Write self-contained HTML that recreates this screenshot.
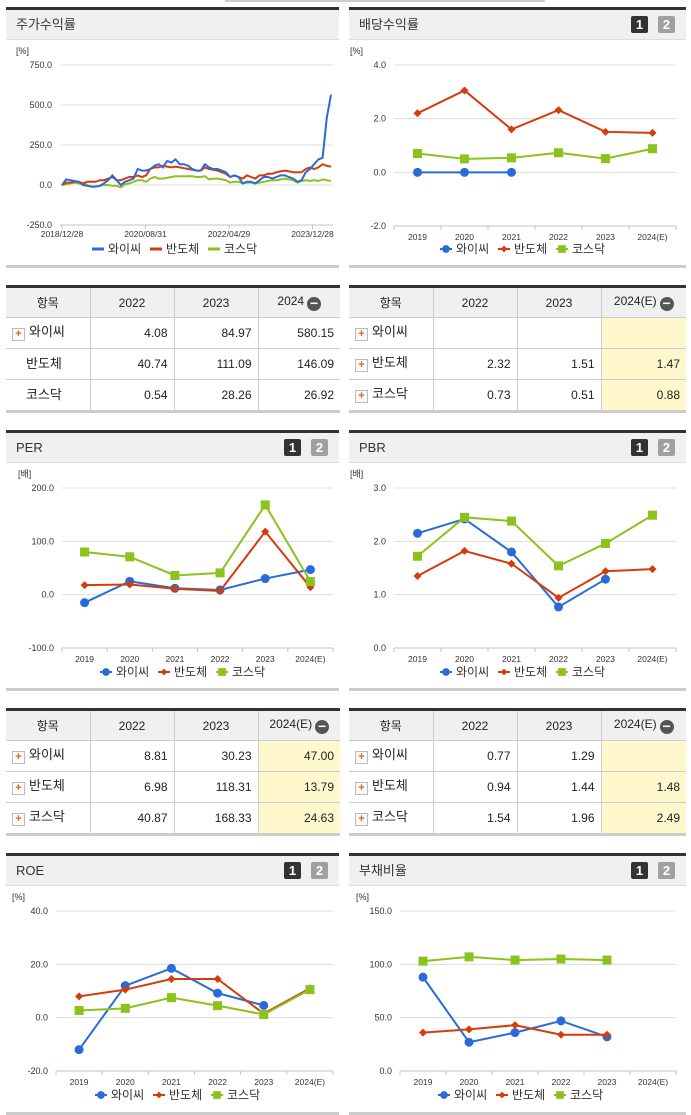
<!DOCTYPE html>
<html><head><meta charset="utf-8">
<style>
body{margin:0;width:691px;height:1115px;background:#fff;position:relative;overflow:hidden;font-family:"Liberation Sans","Noto Sans CJK KR",sans-serif;}
.panel{position:absolute;border-top:3px solid #333;border-bottom:3px solid #ccc;box-sizing:border-box;}
.hdr{height:29px;background:#f0f0f0;border-bottom:1px solid #ddd;font-size:13px;color:#333;line-height:29px;padding-left:10px;position:relative;}
.b1,.b2{position:absolute;top:6px;width:17px;height:17px;border-radius:2px;color:#fff;font-size:13px;font-weight:bold;line-height:17px;text-align:center;}
.b1{background:#333;right:38px}.b2{background:#a0a0a0;right:11px}
table{position:absolute;border-collapse:collapse;font-size:12px;color:#222;border-top:3px solid #333;border-bottom:3px solid #ccc;table-layout:fixed;}
th{background:#f0f0f0;font-weight:normal;height:29px;padding:0;border:1px solid #ccc;border-top:none;font-size:12px;line-height:14px;}
td{height:30px;padding:0 6px 0 0;line-height:14px;border:1px solid #ccc;text-align:right;}
th:first-child,td:first-child{border-left:none}th:last-child,td:last-child{border-right:none}
td.n{text-align:left;padding-left:6px;font-size:13px}
td.hl{background:#fff8cc}
.pl{display:inline-block;width:11px;height:11px;border:1px solid #bbb;background:#fafafa;color:#f06010;font-size:11px;line-height:10px;text-align:center;font-weight:bold;vertical-align:-1px;margin-right:4px}
.mi{display:inline-block;width:14px;height:14px;border-radius:7px;background:#555;color:#fff;line-height:13px;font-size:14px;font-weight:bold;vertical-align:-3px;margin-left:3px}
svg text{font-family:"Liberation Sans","Noto Sans CJK KR",sans-serif;}
</style></head><body>
<div style="position:absolute;left:225px;top:0;width:320px;height:2px;background:#ccc"></div>

<div class="panel" style="left:6px;top:7px;width:333px;height:261px"><div class="hdr">주가수익률</div></div>
<div class="panel" style="left:349px;top:7px;width:337px;height:261px"><div class="hdr">배당수익률<span class="b1">1</span><span class="b2">2</span></div></div>
<div class="panel" style="left:6px;top:430px;width:333px;height:261px"><div class="hdr">PER<span class="b1">1</span><span class="b2">2</span></div></div>
<div class="panel" style="left:349px;top:430px;width:337px;height:261px"><div class="hdr">PBR<span class="b1">1</span><span class="b2">2</span></div></div>
<div class="panel" style="left:6px;top:853px;width:333px;height:262px"><div class="hdr">ROE<span class="b1">1</span><span class="b2">2</span></div></div>
<div class="panel" style="left:349px;top:853px;width:337px;height:262px"><div class="hdr">부채비율<span class="b1">1</span><span class="b2">2</span></div></div>

<table style="left:6px;top:285px;width:334px">
<colgroup><col style="width:84px"><col style="width:84px"><col style="width:84px"><col></colgroup>
<tr><th>항목</th><th>2022</th><th>2023</th><th>2024<span class="mi">−</span></th></tr>
<tr><td class="n"><span class="pl">+</span>와이씨</td><td>4.08</td><td>84.97</td><td>580.15</td></tr>
<tr><td class="n" style="padding-left:20px">반도체</td><td>40.74</td><td>111.09</td><td>146.09</td></tr>
<tr><td class="n" style="padding-left:20px">코스닥</td><td>0.54</td><td>28.26</td><td>26.92</td></tr>
</table>
<table style="left:349px;top:285px;width:337px">
<colgroup><col style="width:84px"><col style="width:84px"><col style="width:84px"><col></colgroup>
<tr><th>항목</th><th>2022</th><th>2023</th><th>2024(E)<span class="mi">−</span></th></tr>
<tr><td class="n"><span class="pl">+</span>와이씨</td><td></td><td></td><td class="hl"></td></tr>
<tr><td class="n"><span class="pl">+</span>반도체</td><td>2.32</td><td>1.51</td><td class="hl">1.47</td></tr>
<tr><td class="n"><span class="pl">+</span>코스닥</td><td>0.73</td><td>0.51</td><td class="hl">0.88</td></tr>
</table>
<table style="left:6px;top:708px;width:334px">
<colgroup><col style="width:84px"><col style="width:84px"><col style="width:84px"><col></colgroup>
<tr><th>항목</th><th>2022</th><th>2023</th><th>2024(E)<span class="mi">−</span></th></tr>
<tr><td class="n"><span class="pl">+</span>와이씨</td><td>8.81</td><td>30.23</td><td class="hl">47.00</td></tr>
<tr><td class="n"><span class="pl">+</span>반도체</td><td>6.98</td><td>118.31</td><td class="hl">13.79</td></tr>
<tr><td class="n"><span class="pl">+</span>코스닥</td><td>40.87</td><td>168.33</td><td class="hl">24.63</td></tr>
</table>
<table style="left:349px;top:708px;width:337px">
<colgroup><col style="width:84px"><col style="width:84px"><col style="width:84px"><col></colgroup>
<tr><th>항목</th><th>2022</th><th>2023</th><th>2024(E)<span class="mi">−</span></th></tr>
<tr><td class="n"><span class="pl">+</span>와이씨</td><td>0.77</td><td>1.29</td><td class="hl"></td></tr>
<tr><td class="n"><span class="pl">+</span>반도체</td><td>0.94</td><td>1.44</td><td class="hl">1.48</td></tr>
<tr><td class="n"><span class="pl">+</span>코스닥</td><td>1.54</td><td>1.96</td><td class="hl">2.49</td></tr>
</table>

<svg id="g" width="691" height="1115" style="position:absolute;left:0;top:0"></svg>

<script>
const years=["2019","2020","2021","2022","2023","2024(E)"];
const stockWy=[0,35,30,25,20,0,-5,-10,-10,-5,10,30,60,30,0,20,30,40,100,90,90,100,120,130,110,150,140,160,130,130,120,100,90,90,130,110,100,100,90,80,50,60,50,10,20,20,10,30,50,50,40,50,60,60,50,40,20,30,80,100,130,160,170,420,565];
const stockSemi=[0,15,15,20,20,10,20,20,20,30,30,40,50,30,30,40,50,50,60,50,60,100,110,110,120,115,110,115,110,105,100,95,90,90,110,100,95,90,80,70,50,60,50,40,60,50,40,60,60,70,70,80,85,90,85,80,80,80,100,110,100,110,130,120,115];
const stockKosdaq=[0,5,10,15,10,10,0,-10,-10,-5,0,0,-5,-5,-15,5,10,20,30,30,20,40,50,40,40,45,50,55,55,55,55,55,50,50,55,35,40,40,35,30,15,20,20,10,15,15,10,15,20,25,30,30,35,40,35,30,15,25,30,25,30,25,35,30,25];
const stockTicks=["750.0","500.0","250.0","0.0","-250.0"];
const stockDates=["2018/12/28","2020/08/31","2022/04/29","2023/12/28"];
const divWy=[0,0,0,null,null,null];
const divSemi=[2.2,3.05,1.6,2.32,1.51,1.47];
const divKosdaq=[0.7,0.5,0.54,0.73,0.51,0.88];
const perWy=[-15,25,12,8.81,30.23,47];
const perSemi=[18,19,11,6.98,118.31,13.79];
const perKosdaq=[80,71,36,40.87,168.33,24.63];
const pbrWy=[2.15,2.42,1.8,0.77,1.29,null];
const pbrSemi=[1.35,1.82,1.58,0.94,1.44,1.48];
const pbrKosdaq=[1.72,2.45,2.38,1.54,1.96,2.49];
const roeWy=[-12,12,18.5,9.2,4.6,null];
const roeSemi=[8,10.5,14.5,14.5,1.5,11];
const roeKosdaq=[2.7,3.5,7.5,4.5,1.2,10.5];
const debtWy=[88,27,36,47,32,null];
const debtSemi=[36,39,43,34,34,null];
const debtKosdaq=[103,107,104,105,104,null];

const C={b:"#2a6bd9",r:"#d63c0a",g:"#8bc21c"};
const svg=document.getElementById('g');
const NS="http://www.w3.org/2000/svg";
function mk(t,a,p){const e=document.createElementNS(NS,t);for(const k in a)e.setAttribute(k,a[k]);(p||svg).appendChild(e);return e;}
function txt(x,y,s,sz,anc,fill){const e=mk('text',{x:x,y:y,'font-size':sz,'text-anchor':anc||'middle',fill:fill||'#222'});e.textContent=s;return e;}

function frame(o){
  const g=mk('g',{});
  
  
  const ys=v=>o.yTop+(o.max-v)/(o.max-o.min)*(o.yBot-o.yTop);
  txt(o.x0-44,o.yTop-11,o.unit,9,'start','#333');
  for(let i=0;i<o.ticks.length;i++){
    const v=o.max-i*(o.max-o.min)/(o.ticks.length-1);const y=ys(v);
    if(i<o.ticks.length-1){const l=mk('line',{x1:o.x0,x2:o.x1,y1:y,y2:y,stroke:'#ddd','stroke-width':1},g);}
    const t=txt(o.x0-8,y+3,o.ticks[i],9,'end','#333');
  }
  mk('line',{x1:o.x0,x2:o.x1,y1:o.yBot,y2:o.yBot,stroke:'#b8c4d8','stroke-width':1},g);
  return ys;
}
function legend(cx,y,kind){
  const names=["와이씨","반도체","코스닥"],cols=[C.b,C.r,C.g];
  const g=mk('g',{});
  
  
  let x=cx-80;
  for(let i=0;i<3;i++){
    const e=mk('g',{},g);
    
    
    if(kind==='line'){mk('line',{x1:x,x2:x+12,y1:y,y2:y,stroke:cols[i],'stroke-width':3},e);}
    else{mk('line',{x1:x,x2:x+12,y1:y,y2:y,stroke:cols[i],'stroke-width':2},e);marker(x+6,y,i,e,0.85);}
    const t=txt(x+16,y+4,names[i],12,'start','#333');e.appendChild(t);
    x+=58;
  }
}
function marker(x,y,i,p,s){s=s||1;
  if(i===0)mk('circle',{cx:x,cy:y,r:4.5*s,fill:C.b},p);
  else if(i===1)mk('path',{d:`M${x} ${y-4*s}L${x+4*s} ${y}L${x} ${y+4*s}L${x-4*s} ${y}Z`,fill:C.r},p);
  else mk('rect',{x:x-4.5*s,y:y-4.5*s,width:9*s,height:9*s,fill:C.g},p);
}
function catChart(o,series){
  const ys=frame(o);const bw=(o.x1-o.x0)/years.length;
  const xs=i=>o.x0+bw*(i+0.5);
  for(let i=0;i<=years.length;i++)mk('line',{x1:o.x0+bw*i,x2:o.x0+bw*i,y1:o.yBot,y2:o.yBot+4,stroke:'#b8c4d8'});
  years.forEach((y,i)=>{const t=txt(xs(i),o.yBot+14,y,8.5,'middle','#333');});
  series.forEach((s,si)=>{
    const col=[C.b,C.r,C.g][si];let d='';
    s.forEach((v,i)=>{if(v==null)return;d+=(d?'L':'M')+xs(i)+' '+ys(v);});
    const p=mk('path',{d:d,fill:'none',stroke:col,'stroke-width':2});
    
    s.forEach((v,i)=>{if(v==null)return;const g=mk('g',{});marker(xs(i),ys(v),si,g);});
  });
  legend(o.lx,o.ly,'marker');
}
(function(){
  const o={name:'stock-return-chart',x0:60,x1:333,yTop:65,yBot:225,max:750,min:-250,ticks:stockTicks,unit:'[%]'};
  const ys=frame(o);
  const xa=62,xb=331;
  stockDates.forEach((d,i)=>{const x=62+i*83.5;mk('line',{x1:x,x2:x,y1:225,y2:229,stroke:'#b8c4d8'});const t=txt(x,237,d,8.5,'middle','#333');});
  [[stockKosdaq,C.g],[stockSemi,C.r],[stockWy,C.b]].forEach(([s,c])=>{
    let d='';s.forEach((v,i)=>{const x=xa+(xb-xa)*i/(s.length-1);d+=(i?'L':'M')+x.toFixed(1)+' '+ys(v).toFixed(1);});
    const p=mk('path',{d:d,fill:'none',stroke:c,'stroke-width':2});
    
  });
  legend(172,249,'line');
})();
catChart({name:'dividend-chart',x0:394,x1:676,yTop:65,yBot:226,max:4,min:-2,ticks:["4.0","2.0","0.0","-2.0"],unit:'[%]',lx:520,ly:249},[divWy,divSemi,divKosdaq]);
catChart({name:'per-chart',x0:62,x1:333,yTop:488,yBot:648,max:200,min:-100,ticks:["200.0","100.0","0.0","-100.0"],unit:'[배]',lx:180,ly:672},[perWy,perSemi,perKosdaq]);
catChart({name:'pbr-chart',x0:394,x1:676,yTop:488,yBot:648,max:3,min:0,ticks:["3.0","2.0","1.0","0.0"],unit:'[배]',lx:520,ly:672},[pbrWy,pbrSemi,pbrKosdaq]);
catChart({name:'roe-chart',x0:56,x1:333,yTop:911,yBot:1071,max:40,min:-20,ticks:["40.0","20.0","0.0","-20.0"],unit:'[%]',lx:175,ly:1095},[roeWy,roeSemi,roeKosdaq]);
catChart({name:'debt-ratio-chart',x0:400,x1:676,yTop:911,yBot:1071,max:150,min:0,ticks:["150.0","100.0","50.0","0.0"],unit:'[%]',lx:518,ly:1095},[debtWy,debtSemi,debtKosdaq]);
</script>
</body></html>
